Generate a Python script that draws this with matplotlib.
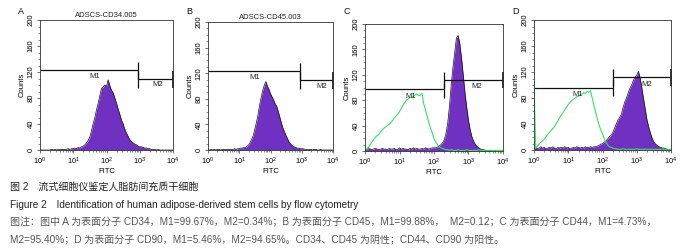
import numpy as np
import matplotlib
matplotlib.use("Agg")
import matplotlib.pyplot as plt
from matplotlib.ticker import MultipleLocator, LogLocator, NullFormatter

plt.rcParams['font.family'] = ['Liberation Sans', 'Noto Sans CJK SC', 'DejaVu Sans']

# channel positions, log10(FITC) from 10^0 to 10^4
channel_log = np.linspace(0, 4, 81)

# histogram counts
counts_a = [0, 0, 0, 0, 0, 0, 0, 1, 0, 1, 0, 1, 1, 1, 1, 1,
            1, 2, 1, 2, 2, 3, 2, 4, 3, 5, 6, 8, 11, 15, 20, 30, 41, 50, 62, 72,
            84, 95, 97, 100, 98, 108, 99, 92, 88, 80, 72, 63, 55, 46, 40, 32,
            26, 21, 16, 13, 11, 9, 8, 6, 5, 5, 4, 3, 3, 2, 2, 1, 1,
            1, 0, 1, 0, 0, 0, 0, 0, 0, 0, 0, 0]
counts_b = [0, 0, 1, 0, 1, 0, 1, 1, 0, 1, 1, 1, 1, 1, 1, 1,
            1, 2, 1, 2, 2, 3, 3, 4, 4, 6, 8, 12, 17, 23, 33, 43, 55, 70, 82, 93,
            101, 107, 100, 95, 88, 83, 78, 72, 68, 60, 51, 42, 34, 28, 22, 17,
            12, 9, 7, 5, 4, 3, 3, 2, 2, 2, 1, 1, 1, 1, 1, 0, 1,
            1, 0, 0, 1, 0, 0, 0, 0, 0, 0, 0, 0]
counts_c = [3, 2, 4, 3, 2, 3, 4, 3, 2, 3, 4, 3, 3, 2, 4, 3, 3, 4, 2, 3,
            5, 3, 4, 3, 3, 2, 4, 3, 5, 3, 4, 3, 3, 4, 3, 5, 4, 3, 4, 5,
            5, 5, 6, 8, 10, 13, 18, 28, 45, 72, 105, 132, 155, 178, 182, 168,
            145, 118, 90, 68, 48, 33, 22, 15, 10, 7, 5, 3, 2,
            2, 1, 1, 1, 1, 0, 1, 0, 0, 0, 0, 0]
control_c = [2, 3, 6, 10, 14, 18, 22, 24, 26, 30, 33, 36, 38, 40, 42, 45,
             48, 52, 55, 58, 62, 67, 72, 76, 80, 82, 84, 85, 86, 88, 90, 87,
             88, 91, 75, 65, 55, 45, 36, 28, 20, 14, 10, 7, 5, 4, 3, 2, 2,
             1, 2, 1, 1, 1, 2, 1, 1, 1, 1, 2, 1, 1, 1, 1, 1, 1, 2, 1, 1,
             1, 1, 1, 1, 1, 1, 1, 1, 1, 1, 1, 1]
counts_d = [3, 4, 2, 3, 5, 3, 4, 2, 3, 4, 3, 5, 3, 2, 4, 3, 4, 3, 5, 3,
            4, 2, 3, 4, 3, 5, 4, 3, 4, 3, 5, 4, 4, 5, 4,
            5, 5, 6, 7, 9, 10, 12, 14, 17, 20, 23, 27, 33, 40, 46, 50, 55,
            65, 74, 80, 88, 95, 100, 107, 112, 115, 121, 110, 95, 78, 62, 46,
            35, 26, 18, 12, 9, 7, 5, 4, 3, 3, 2, 1, 1, 1]
control_d = [104, 3, 6, 9, 12, 14, 17, 20, 24, 27, 30, 33, 36, 41, 45, 50,
             54, 58, 62, 66, 70, 73, 76, 78, 80, 82, 83, 85, 86, 88, 87, 90,
             89, 91, 80, 68, 58, 48, 38, 31, 25, 18, 12, 8, 5, 4, 3, 2, 2,
             1, 1, 1, 2, 1, 1, 1, 1, 1, 1, 1, 2, 1, 1, 1, 1, 1, 1, 1, 1,
             1, 1, 1, 1, 1, 1, 1, 1, 1, 1, 1, 1]

panel_letters = ["A", "B", "C", "D"]
panel_titles = ["ADSCS-CD34.005", "ADSCS-CD45.003", "", ""]
sample_counts = [counts_a, counts_b, counts_c, counts_d]
control_counts = [None, None, control_c, control_d]

# marker gates: M1 from 10^0 to boundary, M2 from boundary to 10^4
gate_boundary = [2.95, 2.93, 2.30, 2.31]
m1_level = [123, 123, 97, 96]
m2_level = [109, 109, 112, 112]
m1_label_pos = [(1.65, 113), (1.49, 113), (1.31, 86), (1.29, 86)]
m2_label_pos = [(3.55, 100), (3.63, 100), (3.24, 101), (3.29, 101)]

# axes boxes in pixels: left, right, top, bottom
boxes = [(40, 173, 20, 150), (208, 333, 22, 150), (365, 503, 24, 151), (534, 671, 20, 150)]

W, H = 694, 248
fig = plt.figure(figsize=(W / 100, H / 100), dpi=100)

purple = "#7030c2"
green = "#38e068"
x = 10 ** channel_log

for i in range(4):
    l, r, t, b = boxes[i]
    ax = fig.add_axes([l / W, 1 - b / H, (r - l) / W, (b - t) / H])
    ax.set_xscale("log")
    ax.set_xlim(1, 1e4)
    ax.set_ylim(0, 200)

    ax.fill_between(x, sample_counts[i], color=purple, linewidth=0)
    ax.plot(x, sample_counts[i], color="#111111", linewidth=0.5)
    if control_counts[i] is not None:
        ax.plot(x, control_counts[i], color=green, linewidth=0.8)

    lo = 10 ** 0
    mid = 10 ** gate_boundary[i]
    hi = 10 ** 4
    ax.hlines(m1_level[i], lo, mid, color="#111111", linewidth=0.9)
    ax.hlines(m2_level[i], mid, hi, color="#111111", linewidth=0.9)
    ax.vlines(mid, m1_level[i] - 13, m1_level[i] + 13, color="#111111", linewidth=0.9)
    ax.vlines(mid, m2_level[i] - 13, m2_level[i] + 13, color="#111111", linewidth=0.9)
    ax.vlines(hi, m2_level[i] - 13, m2_level[i] + 13, color="#111111", linewidth=1.2, clip_on=False)
    ax.text(10 ** m1_label_pos[i][0], m1_label_pos[i][1], "M1", fontsize=5.5,
            ha="center", va="center", color="#222222")
    ax.text(10 ** m2_label_pos[i][0], m2_label_pos[i][1], "M2", fontsize=5.5,
            ha="center", va="center", color="#222222")

    ax.yaxis.set_major_locator(MultipleLocator(40))
    ax.yaxis.set_minor_locator(MultipleLocator(10))
    ax.xaxis.set_major_locator(LogLocator(base=10, numticks=10))
    ax.xaxis.set_minor_locator(LogLocator(base=10, subs=np.arange(2, 10), numticks=10))
    ax.xaxis.set_minor_formatter(NullFormatter())
    ax.tick_params(which="major", length=2.5, width=0.5, labelsize=5.5, pad=1.5, color="#333333")
    ax.tick_params(which="minor", length=1.5, width=0.4, color="#333333")
    for label in ax.get_yticklabels():
        label.set_rotation(90)
        label.set_va("center")
    for s in ax.spines.values():
        s.set_linewidth(0.6)
        s.set_color("#333333")

    ax.set_xlabel("FITC", fontsize=5.5, labelpad=0.5)
    ax.set_ylabel("Counts", fontsize=5.5, labelpad=1)
    if panel_titles[i]:
        ax.set_title(panel_titles[i], fontsize=5.5, pad=2, color="#222222")
    fig.text((l - 22) / W, 1 - 12 / H, panel_letters[i], fontsize=6.5,
             ha="left", va="center", color="#111111")

caption_font = ['Liberation Sans', 'Noto Sans CJK SC']
fig.text(10 / W, 1 - 187 / H, "图 2　流式细胞仪鉴定人脂肪间充质干细胞", fontsize=7.2,
         family=caption_font, va="center", color="#222222")
fig.text(10 / W, 1 - 205 / H, "Figure 2　Identification of human adipose-derived stem cells by flow cytometry",
         fontsize=7.2, family=caption_font, va="center", color="#222222")
fig.text(10 / W, 1 - 222 / H,
         "图注：图中 A 为表面分子 CD34，M1=99.67%，M2=0.34%；B 为表面分子 CD45，M1=99.88%，  M2=0.12；C 为表面分子 CD44，M1=4.73%，",
         fontsize=7.2, family=caption_font, va="center", color="#555555")
fig.text(10 / W, 1 - 239 / H,
         "M2=95.40%；D 为表面分子 CD90，M1=5.46%，M2=94.65%。CD34、CD45 为阴性；CD44、CD90 为阳性。",
         fontsize=7.2, family=caption_font, va="center", color="#555555")

fig.savefig("out.png", dpi=100)
